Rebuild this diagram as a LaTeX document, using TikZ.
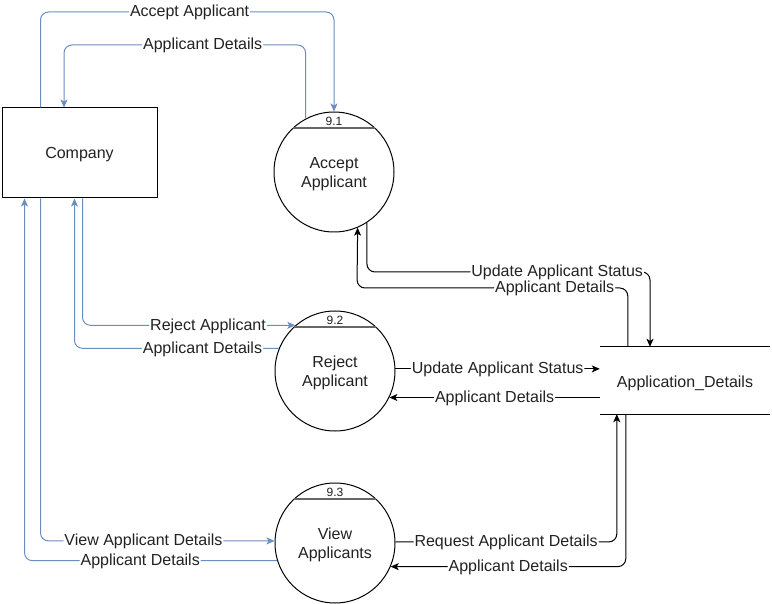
\documentclass[tikz,border=0pt]{standalone}
\usepackage{fontspec}
\setmainfont{Liberation Sans}
\usetikzlibrary{arrows.meta,calc}
\definecolor{flowblue}{HTML}{6C8EBF}
\definecolor{txt}{HTML}{222222}
\definecolor{chordgray}{HTML}{666666}
\begin{document}
\begin{tikzpicture}[x=1pt,y=-1pt,
  tip/.style={-{Stealth[length=8pt,width=7pt,inset=2pt]}},
  bl/.style={draw=flowblue,line width=1pt,rounded corners=8pt,tip},
  bk/.style={draw=black,line width=1pt,rounded corners=8pt,tip},
  lbl/.style={fill=white,inner sep=1pt,text=txt,font=\fontsize{16}{18}\selectfont,yshift=-0.8pt},
  proc/.style={circle,draw=black,line width=1pt,minimum size=120pt,inner sep=0pt},
  proctext/.style={inner sep=0pt,align=center,text=txt,font=\fontsize{16}{19.5}\selectfont},
  chord/.style={draw=chordgray,line width=1.6pt},
  num/.style={inner sep=0pt,text=txt,font=\fontsize{12}{14}\selectfont},
  entity/.style={rectangle,draw=black,line width=1pt,minimum width=155pt,minimum height=90pt,inner sep=0pt,text=txt,font=\fontsize{16}{19}\selectfont},
  storebox/.style={rectangle,minimum width=170pt,minimum height=67pt,inner sep=0pt,text=txt,font=\fontsize{16}{19}\selectfont},
  storeline/.style={draw=black,line width=1pt}
]
\useasboundingbox (0,0) rectangle (772,604);
\fill[white] (0,0) rectangle (772,604);

% nodes
\node[entity] (company) at (79.5,153) {\raisebox{-2pt}[\height][\depth]{Company}};

\node[proc] (c91) at (334,172) {};
\node[proctext] (t91) at ($(c91.center)+(0,2)$) {Accept\\Applicant};
\draw[chord] ($(c91.center)+(-40.8,-44)$) -- ($(c91.center)+(40.8,-44)$);
\node[num] (n91) at ($(c91.center)+(0,-51)$) {9.1};

\node[proc] (c92) at (335,371) {};
\node[proctext] (t92) at ($(c92.center)+(0,2)$) {Reject\\Applicant};
\draw[chord] ($(c92.center)+(-40.8,-44)$) -- ($(c92.center)+(40.8,-44)$);
\node[num] (n92) at ($(c92.center)+(0,-51)$) {9.2};

\node[proc] (c93) at (335,543) {};
\node[proctext] (t93) at ($(c93.center)+(0,2)$) {View\\Applicants};
\draw[chord] ($(c93.center)+(-40.8,-44)$) -- ($(c93.center)+(40.8,-44)$);
\node[num] (n93) at ($(c93.center)+(0,-51)$) {9.3};

\node[storebox] (store) at (685,380.5) {\raisebox{-2.5pt}[\height][\depth]{Application\_Details}};
\draw[storeline] (store.north west) -- (store.north east);
\draw[storeline] (store.south west) -- (store.south east);

% helper corners
\coordinate (k1) at (334,12);
\coordinate (k2) at (64,45);
\coordinate (k7) at (650,272);
\coordinate (k8) at (357,288);

% blue flows
\draw[bl] ([xshift=39pt]company.north west) |- node[lbl,pos=0.754]{Accept Applicant} (k1) -- (c91.north);
\draw[bl] (c91.118) |- node[lbl,pos=0.713]{Applicant Details} (k2) -- (k2 |- company.north);
\draw[bl] ([xshift=81pt]company.south west) |- node[lbl,pos=0.795]{Reject Applicant} (c92.131);
\draw[bl] (c92.158) -| node[lbl,pos=0.187]{Applicant Details} ([xshift=73pt]company.south west);
\draw[bl] ([xshift=39pt]company.south west) |- node[lbl,pos=0.72]{View Applicant Details} (c93.178);
\draw[bl] (c93.197) -| node[lbl,pos=0.271]{Applicant Details} ([xshift=23pt]company.south west);

% black flows
\draw[bk] (c91.-57) |- node[lbl,pos=0.836]{Update Applicant Status} (k7) -- (k7 |- store.north);
\draw[bk] ([xshift=28pt]store.north west) |- node[lbl,pos=0.635]{Applicant Details} (k8) -- (c91.-67);
\draw[bk] (c92.2) -- node[lbl]{Update Applicant Status} (c92.2 -| store.west);
\draw[bk] (c92.-26 -| store.west) -- node[lbl]{Applicant Details~} (c92.-26);
\draw[bk] (c93.1) -| node[lbl,pos=0.25]{Request Applicant Details} ([xshift=17pt]store.south west);
\draw[bk] ([xshift=26pt]store.south west) |- node[lbl,pos=0.75]{Applicant Details} (c93.-23);
\end{tikzpicture}
\end{document}
